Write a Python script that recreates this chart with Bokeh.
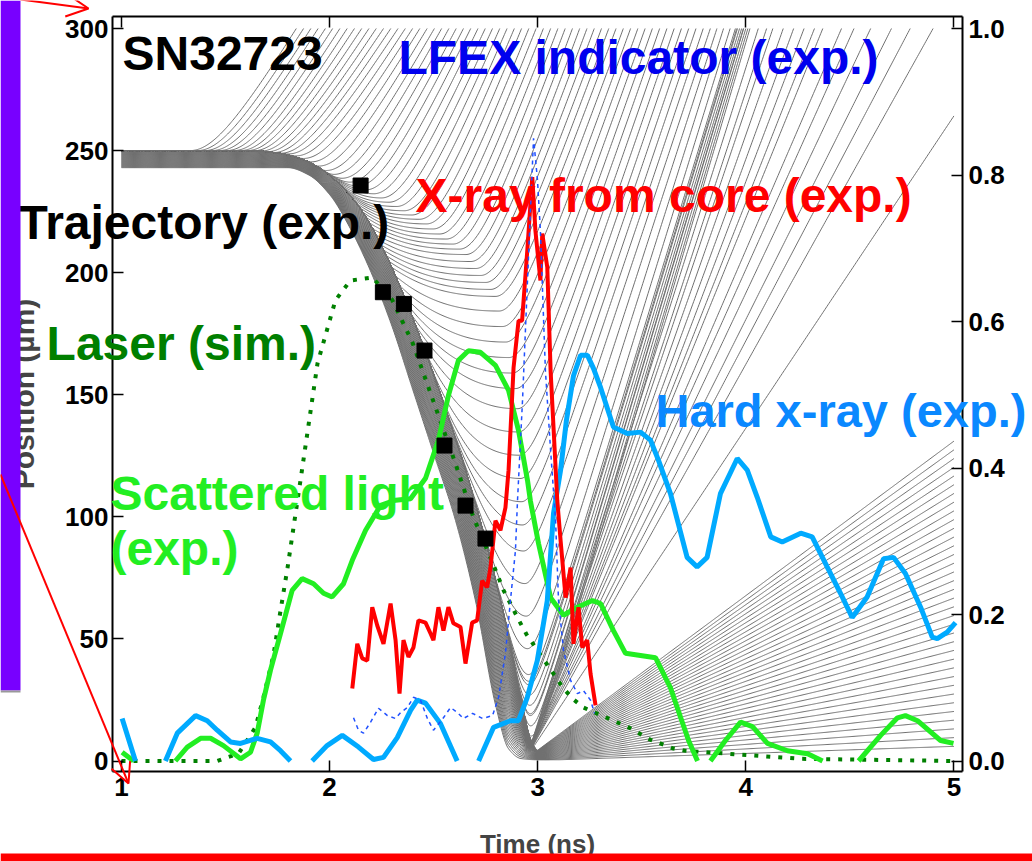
import numpy as np
from bokeh.plotting import figure
from bokeh.models import (Range1d, LinearAxis, FixedTicker, NumeralTickFormatter, Label,
                          BoxAnnotation, Arrow, OpenHead)
from bokeh.embed import file_html
from bokeh.resources import INLINE

NAN = float("nan")
FONT = "Liberation Sans"

# ---------------- axes ----------------
time_ticks = [1, 2, 3, 4, 5]
pos_ticks = [0, 50, 100, 150, 200, 250, 300]
right_ticks = [0.0, 0.2, 0.4, 0.6, 0.8, 1.0]
time_bounds = (0.95675, 5.04123)      # plot box, ns
pos_bounds = (-4.30, 304.92)          # plot box, um

# ---------------- experimental / simulated traces (right axis 0..1) ----------------
traj_t = [2.149, 2.256, 2.357, 2.456, 2.552, 2.653, 2.749]
traj_r = [235.7, 192.0, 187.2, 168.1, 129.2, 104.6, 91.1]

laser_pts = [(1.0, 0), (1.461, 0), (1.509, .005), (1.562, .010), (1.644, .046), (1.682, .087),
             (1.730, .144), (1.764, .205), (1.798, .264), (1.860, .383), (1.942, .543),
             (2.028, .629), (2.100, .656), (2.206, .660), (2.30, .63), (2.40, .57), (2.50, .49),
             (2.60, .41), (2.692, .332), (2.783, .271), (2.836, .233), (2.874, .212),
             (2.908, .193), (2.946, .173), (3.124, .099), (3.172, .084), (3.220, .073),
             (3.436, .046), (3.542, .029), (3.653, .017), (3.710, .014), (4.263, .003), (5.0, 0)]

scat_pts = [(1.003, .012), (1.058, 0), (NAN, NAN),
            (1.259, 0), (1.316, .019), (1.380, .031), (1.428, .031), (1.490, .021), (1.572, .003),
            (1.620, .012), (1.652, .038), (1.682, .083), (1.716, .124), (1.764, .174),
            (1.820, .233), (1.868, .249), (1.923, .242), (1.971, .229), (2.012, .224),
            (2.067, .242), (2.109, .274), (2.173, .315), (2.245, .349), (2.317, .356),
            (2.389, .358), (2.461, .386), (2.523, .438), (2.571, .499), (2.619, .547),
            (2.667, .560), (2.725, .558), (2.797, .540), (2.860, .506), (2.908, .451),
            (2.951, .383), (2.965, .355), (3.004, .297), (3.062, .223), (3.124, .199),
            (3.191, .210), (3.263, .219), (3.302, .215), (3.364, .178), (3.422, .147),
            (3.494, .144), (3.566, .141), (3.638, .100), (3.686, .060), (3.725, .028),
            (3.768, 0), (NAN, NAN),
            (3.830, 0), (3.902, .028), (3.975, .053), (4.032, .047), (4.104, .024),
            (4.200, .014), (4.297, .010), (4.369, 0), (NAN, NAN),
            (4.542, 0), (4.648, .035), (4.729, .059), (4.767, .062), (4.825, .055),
            (4.936, .028), (4.998, .024)]

hxr_pts = [(1.003, .058), (1.067, 0), (NAN, NAN),
           (1.211, 0), (1.268, .038), (1.356, .062), (1.412, .055), (1.460, .042), (1.524, .026),
           (1.572, .024), (1.652, .031), (1.716, .026), (1.764, .014), (1.812, 0), (NAN, NAN),
           (1.916, 0), (1.988, .021), (2.061, .035), (2.139, .019), (2.211, .002), (2.259, .005),
           (2.325, .032), (2.389, .069), (2.421, .083), (2.461, .079), (2.533, .051), (2.613, 0),
           (NAN, NAN),
           (2.716, 0), (2.788, .046), (2.869, .055), (2.908, .055), (2.950, .087), (2.998, .137),
           (3.046, .219), (3.076, .338), (3.110, .397), (3.138, .465), (3.172, .526),
           (3.206, .554), (3.239, .554), (3.268, .536), (3.302, .510), (3.364, .456),
           (3.430, .447), (3.494, .449), (3.542, .438), (3.581, .410), (3.638, .365),
           (3.718, .278), (3.766, .265), (3.814, .278), (3.878, .365), (3.959, .413),
           (4.007, .397), (4.055, .360), (4.120, .306), (4.175, .299), (4.264, .311),
           (4.319, .306), (4.391, .265), (4.455, .229), (4.511, .196), (4.583, .224),
           (4.662, .276), (4.710, .278), (4.767, .256), (4.840, .210), (4.896, .169),
           (4.920, .167), (4.968, .176), (5.008, .189)]

xcore_pts = [(2.109, .099), (2.133, .160), (2.157, .140), (2.181, .137), (2.205, .210),
             (2.229, .185), (2.259, .160), (2.293, .215), (2.317, .165), (2.336, .092),
             (2.355, .165), (2.379, .142), (2.403, .155), (2.427, .192), (2.461, .189),
             (2.485, .174), (2.499, .165), (2.523, .210), (2.547, .178), (2.571, .210),
             (2.595, .188), (2.629, .183), (2.653, .133), (2.685, .189), (2.709, .192),
             (2.733, .246), (2.757, .237), (2.773, .264), (2.797, .328), (2.821, .315),
             (2.845, .346), (2.860, .397), (2.884, .537), (2.908, .601), (2.925, .601),
             (2.950, .697), (2.974, .797), (2.989, .724), (3.013, .656), (3.022, .720),
             (3.046, .674), (3.062, .533), (3.094, .356), (3.110, .301), (3.134, .223),
             (3.158, .264), (3.172, .160), (3.196, .210), (3.214, .155), (3.238, .165),
             (3.254, .119), (3.278, .076)]

lfex_pts = [(2.115, .059), (2.139, .042), (2.163, .038), (2.197, .053), (2.235, .072),
            (2.278, .062), (2.317, .058), (2.341, .066), (2.374, .073), (2.403, .087),
            (2.437, .083), (2.470, .058), (2.499, .042), (2.547, .059), (2.581, .073),
            (2.615, .066), (2.643, .058), (2.687, .065), (2.735, .058), (2.783, .062),
            (2.812, .087), (2.845, .147), (2.869, .219), (2.893, .287), (2.903, .356),
            (2.927, .492), (2.951, .656), (2.980, .850), (2.999, .793), (3.013, .724),
            (3.037, .533), (3.062, .424), (3.086, .328), (3.100, .219), (3.124, .151),
            (3.158, .110), (3.191, .092), (3.220, .096), (3.254, .083), (3.273, .065)]

# ---------------- simulated flow lines ----------------
shell_in_t = [1.0, 1.8, 1.9, 2.0, 2.1, 2.2, 2.3, 2.4, 2.5, 2.6, 2.7, 2.8, 2.86, 2.92, 3.0, 5.0]
shell_in_r = [243, 243, 240, 232, 218, 200, 178, 152, 126, 100, 66, 22, 5, 1, 0.5, 0.5]
shell_out_t = [1.0, 1.6, 1.75, 1.85, 1.95, 2.05, 2.15, 2.25, 2.35, 2.45, 2.55, 2.65, 2.75,
               2.85, 2.92, 2.97, 3.02, 5.0]
shell_out_r = [250, 250, 249, 247, 243, 236, 226, 211, 192, 170, 146, 120, 90, 55, 25, 8, 3, 3]
n_shell_lines = 36
fan_end_r = [6, 131]
fan_t0 = 2.93
u_s = [0.0, 0.1, 0.2, 0.3, 0.4, 0.5, 0.6, 0.7, 0.8, 0.9, 1.0]
u_td = [1.33, 1.55, 1.75, 1.88, 2.00, 2.12, 2.22, 2.30, 2.42, 2.58, 2.90]
u_tm = [1.33, 1.55, 1.75, 1.98, 2.22, 2.45, 2.65, 2.80, 2.90, 2.93, 2.97]
u_rm = [250, 250, 249, 242, 232, 221, 208, 190, 150, 90, 6]
u_t300 = [1.84, 2.06, 2.28, 2.50, 2.72, 2.94, 3.16, 3.38, 3.60, 3.82, 4.02]
u_w = [0.20, 0.19, 0.18, 0.17, 0.16, 0.15, 0.14, 0.12, 0.10, 0.07, 0.04]
n_u_lines = 64
ray_t300 = [4.06, 4.10, 4.13, 4.18, 4.23, 4.28, 4.33, 4.37, 4.46, 4.52, 4.60, 4.70, 4.79, 4.90, 5.28]
ray_t0, ray_r0 = 2.95, 2.0


def pchip(xk, yk, x):
    xk = np.asarray(xk, float)
    yk = np.asarray(yk, float)
    h = np.diff(xk)
    d = np.diff(yk) / h
    m = np.zeros_like(yk)
    for i in range(1, len(xk) - 1):
        if d[i - 1] * d[i] > 0:
            w1 = 2 * h[i] + h[i - 1]
            w2 = h[i] + 2 * h[i - 1]
            m[i] = (w1 + w2) / (w1 / d[i - 1] + w2 / d[i])
    m[0] = d[0]
    m[-1] = d[-1]
    idx = np.clip(np.searchsorted(xk, x) - 1, 0, len(xk) - 2)
    s = (x - xk[idx]) / h[idx]
    h00 = 2 * s ** 3 - 3 * s ** 2 + 1
    h10 = s ** 3 - 2 * s ** 2 + s
    h01 = -2 * s ** 3 + 3 * s ** 2
    h11 = s ** 3 - s ** 2
    return h00 * yk[idx] + h10 * h[idx] * m[idx] + h01 * yk[idx + 1] + h11 * h[idx] * m[idx + 1]


def clip300(t, r):
    above = np.where(r > 300)[0]
    if len(above):
        i = above[0]
        if i == 0:
            return None
        tc = t[i - 1] + (300 - r[i - 1]) * (t[i] - t[i - 1]) / (r[i] - r[i - 1])
        return np.append(t[:i], tc), np.append(r[:i], 300.0)
    return t, r


T = np.arange(1.0, 5.0001, 0.005)
Rin = pchip(shell_in_t, shell_in_r, T)
Rout = pchip(shell_out_t, shell_out_r, T)
dRout = np.gradient(Rout, T)

xs, ys = [], []
for k in range(n_shell_lines):
    f = k / (n_shell_lines - 1)
    rb = Rin + f * (Rout - Rin)
    r_end = fan_end_r[0] + f * (fan_end_r[1] - fan_end_r[0])
    v = r_end / (5.0 - fan_t0)
    r = np.maximum(rb, v * (T - fan_t0))
    xs.append(T.tolist())
    ys.append(r.tolist())

s_list = list(np.linspace(0, 1, n_u_lines)) + list(np.linspace(0.965, 0.995, 7))
for s in s_list:
    td = np.interp(s, u_s, u_td)
    tm = np.interp(s, u_s, u_tm)
    rm = np.interp(s, u_s, u_rm)
    w = np.interp(s, u_s, u_w)
    t3 = np.interp(s, u_s, u_t300)
    Rd = float(np.interp(td, T, Rout))
    md = float(np.interp(td, T, dRout))
    rm = min(max(rm, float(np.interp(tm, T, Rout)) + 0.5), Rd)
    vout = (300 - rm) / (np.hypot(t3 - tm, w) - w)
    r = Rout.copy()
    L = tm - td
    if L > 1e-6:
        sel = (T > td) & (T <= tm)
        u = (T[sel] - td) / L
        m0 = max(md, 2.5 * (rm - Rd) / L) * L
        r[sel] = ((2 * u ** 3 - 3 * u ** 2 + 1) * Rd + (u ** 3 - 2 * u ** 2 + u) * m0
                  + (-2 * u ** 3 + 3 * u ** 2) * rm)
    sel = T > tm
    r[sel] = rm + vout * (np.hypot(T[sel] - tm, w) - w)
    c = clip300(T, r)
    if c is not None:
        xs.append(c[0].tolist())
        ys.append(c[1].tolist())

for t3 in ray_t300:
    v = (300 - ray_r0) / (t3 - ray_t0)
    r = np.maximum(Rout, ray_r0 + v * (T - ray_t0))
    c = clip300(T, r)
    if c is not None:
        xs.append(c[0].tolist())
        ys.append(c[1].tolist())

# ---------------- figure: frame = whole page, axes pinned to the plot box ----------------
p = figure(width=1032, height=861, x_range=Range1d(0.41855, 5.3777), y_range=Range1d(-41.16, 311.47),
           output_backend="svg", toolbar_location=None, min_border=0,
           background_fill_color="white", border_fill_color="white")
p.extra_y_ranges = {"right": Range1d(-41.16 / 300, 311.47 / 300)}
p.grid.visible = False
p.outline_line_color = None


def style_axis(ax, standoff):
    ax.axis_line_width = 2
    ax.major_tick_in = 11
    ax.major_tick_out = 0
    ax.minor_tick_in = 0
    ax.minor_tick_out = 0
    ax.major_tick_line_width = 1.5
    ax.major_label_text_font = FONT
    ax.major_label_text_font_style = "bold"
    ax.major_label_text_font_size = "26px"
    ax.major_label_text_color = "black"
    ax.major_label_standoff = standoff


xa = p.xaxis[0]
xa.ticker = FixedTicker(ticks=time_ticks)
style_axis(xa, 6)
xa.fixed_location = pos_bounds[0]
xa.bounds = time_bounds
xa.axis_label = "Time (ns)"
xa.axis_label_text_font = FONT
xa.axis_label_text_font_style = "bold"
xa.axis_label_text_font_size = "26px"
xa.axis_label_standoff = 30

ya = p.yaxis[0]
ya.ticker = FixedTicker(ticks=pos_ticks)
style_axis(ya, 4)
ya.fixed_location = time_bounds[0]
ya.bounds = pos_bounds
ya.axis_label = "Position (µm)"
ya.axis_label_text_font = FONT
ya.axis_label_text_font_style = "bold"
ya.axis_label_text_font_size = "30px"
ya.axis_label_standoff = 22

ra = LinearAxis(y_range_name="right", ticker=FixedTicker(ticks=right_ticks),
                formatter=NumeralTickFormatter(format="0.0"))
style_axis(ra, 6)
ra.fixed_location = time_bounds[1]
ra.bounds = (pos_bounds[0] / 300, pos_bounds[1] / 300)
p.add_layout(ra, "right")

ta = LinearAxis(ticker=FixedTicker(ticks=time_ticks),
                major_label_overrides={t: "" for t in time_ticks})
style_axis(ta, 0)
ta.fixed_location = pos_bounds[1]
ta.bounds = time_bounds
p.add_layout(ta, "above")

p.multi_line(xs, ys, line_color="#707070", line_width=1)

lt, lv = zip(*laser_pts)
p.line(list(lt), list(lv), y_range_name="right", line_color="#008000", line_width=4, line_dash="4 8")
st, sv = zip(*scat_pts)
p.line(list(st), list(sv), y_range_name="right", line_color="#22EE22", line_width=5)
ht, hv = zip(*hxr_pts)
p.line(list(ht), list(hv), y_range_name="right", line_color="#00AAFF", line_width=5)
xt, xv = zip(*xcore_pts)
p.line(list(xt), list(xv), y_range_name="right", line_color="#FF0000", line_width=4)
ft, fv = zip(*lfex_pts)
p.line(list(ft), list(fv), y_range_name="right", line_color="#2050FF", line_width=1.5, line_dash="4 4")
p.scatter(traj_t, traj_r, marker="square", size=15, color="black")


def cbox(l, r, t, b, color):
    p.add_layout(BoxAnnotation(left=l, right=r, top=t, bottom=b, left_units="canvas", right_units="canvas",
                               top_units="canvas", bottom_units="canvas", fill_color=color, fill_alpha=1,
                               line_color=None, level="overlay"))


def lab(x, y, text, color, size="48px"):
    p.add_layout(Label(x=x, y=y, text=text, text_color=color, text_font=FONT, text_font_style="bold",
                       text_font_size=size, text_baseline="alphabetic", level="overlay"))


LIFT = 7.6
lab(1.005, 282.0 + LIFT, "SN32723", "black")
lab(2.331, 280.7 + LIFT, "LFEX indicator (exp.)", "#0000EE")
lab(2.413, 224.2 + LIFT, "X-ray from core (exp.)", "#FF0000")
lab(0.505, 212.8 + LIFT, "Trajectory (exp.)", "black")
lab(0.640, 163.2 + LIFT, "Laser (sim.)", "#007F00")
lab(3.566, 136.0 + LIFT, "Hard x-ray (exp.)", "#0A88FF", "47px")
lab(0.947, 101.8 + LIFT, "Scattered light", "#22EE22")
lab(0.947, 79.3 + LIFT, "(exp.)", "#22EE22")

# slide decorations
cbox(0, 20, 0, 690, "#7800FF")
cbox(0, 20, 690, 692, "#999999")
cbox(0, 1032, 853, 861, "#FF0000")
p.add_layout(Arrow(end=OpenHead(size=22, line_color="red", line_width=2), x_start=20, y_start=-1,
                   x_end=88, y_end=8, start_units="canvas", end_units="canvas",
                   line_color="red", line_width=2, level="overlay"))
p.add_layout(Arrow(end=OpenHead(size=20, line_color="red", line_width=2), x_start=0, y_start=474,
                   x_end=128, y_end=783, start_units="canvas", end_units="canvas",
                   line_color="red", line_width=2, level="overlay"))

open("out.html", "w").write(file_html(p, INLINE))
